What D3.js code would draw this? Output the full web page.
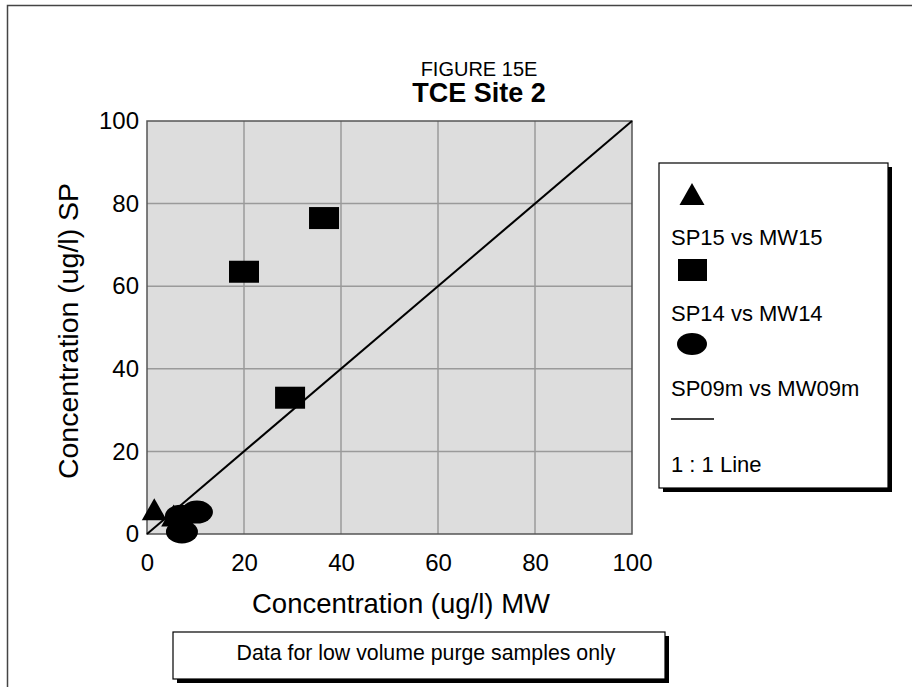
<!DOCTYPE html>
<html>
<head>
<meta charset="utf-8">
<script src="https://cdn.jsdelivr.net/npm/d3@7"></script>
<style>
  body { margin: 0; background: #fff; }
  svg { font-family: "Liberation Sans", Arial, sans-serif; }
</style>
</head>
<body>
<svg id="chart" width="912" height="687"></svg>
<script>
// data
var mwTicks = [0, 20, 40, 60, 80, 100];
var spTicks = [0, 20, 40, 60, 80, 100];

var sp15Mw = [1.5, 5.5];
var sp15Sp = [6, 4.5];
var sp14Mw = [20, 36.5, 29.5];
var sp14Sp = [63.5, 76.5, 33];
var sp09Mw = [10.3, 7.2, 7];
var sp09Sp = [5.3, 0.5, 4.3];
var oneToOne = [0, 100];

var legendNames = ["SP15 vs MW15", "SP14 vs MW14", "SP09m vs MW09m", "1 : 1 Line"];

var margin = {top: 121, left: 147},
    width = 485,
    height = 413;

var svg = d3.select("#chart");

// outer frame (only top and left edges show)
svg.append("path")
    .attr("d", "M7.5,690 V5.5 H915")
    .attr("fill", "none")
    .attr("stroke", "#444")
    .attr("stroke-width", 1.5);

var x = d3.scaleLinear().domain([0, 100]).range([0, width]);
var y = d3.scaleLinear().domain([0, 100]).range([height, 0]);

var chart = svg.append("g")
    .attr("transform", "translate(" + margin.left + "," + margin.top + ")");

chart.append("rect")
    .attr("width", width)
    .attr("height", height)
    .attr("fill", "#dddddd");

// grid
chart.selectAll("line.gx")
    .data(mwTicks.slice(1, -1))
  .enter().append("line")
    .attr("class", "gx")
    .attr("x1", function(d) { return x(d); })
    .attr("x2", function(d) { return x(d); })
    .attr("y1", 0).attr("y2", height)
    .attr("stroke", "#9a9a9a").attr("stroke-width", 1.5);

chart.selectAll("line.gy")
    .data(spTicks.slice(1, -1))
  .enter().append("line")
    .attr("class", "gy")
    .attr("y1", function(d) { return y(d); })
    .attr("y2", function(d) { return y(d); })
    .attr("x1", 0).attr("x2", width)
    .attr("stroke", "#9a9a9a").attr("stroke-width", 1.5);

chart.append("rect")
    .attr("width", width)
    .attr("height", height)
    .attr("fill", "none")
    .attr("stroke", "#555")
    .attr("stroke-width", 1.5);

// axes
var xAxis = d3.axisBottom(x).tickValues(mwTicks).tickSize(0).tickPadding(20);
var yAxis = d3.axisLeft(y).tickValues(spTicks).tickSize(0).tickPadding(8);

chart.append("g")
    .attr("class", "x axis")
    .attr("transform", "translate(0," + height + ")")
    .call(xAxis);

chart.append("g")
    .attr("class", "y axis")
    .call(yAxis);

chart.selectAll(".axis path").remove();
chart.selectAll(".axis text")
    .attr("font-family", "Liberation Sans, Arial, sans-serif")
    .attr("font-size", 24)
    .attr("fill", "#000");

// 1:1 line
chart.append("line")
    .attr("x1", x(oneToOne[0])).attr("y1", y(oneToOne[0]))
    .attr("x2", x(oneToOne[1])).attr("y2", y(oneToOne[1]))
    .attr("stroke", "#000").attr("stroke-width", 2);

function zip(a, b) { return a.map(function(v, i) { return {mw: v, sp: b[i]}; }); }

var triPath = "M0,-11 L12.5,11 L-12.5,11 Z";

chart.selectAll("path.tri")
    .data(zip(sp15Mw, sp15Sp))
  .enter().append("path")
    .attr("class", "tri")
    .attr("d", triPath)
    .attr("transform", function(d) { return "translate(" + x(d.mw) + "," + y(d.sp) + ")"; })
    .attr("fill", "#000");

chart.selectAll("rect.sq")
    .data(zip(sp14Mw, sp14Sp))
  .enter().append("rect")
    .attr("class", "sq")
    .attr("x", function(d) { return x(d.mw) - 15; })
    .attr("y", function(d) { return y(d.sp) - 11; })
    .attr("width", 30).attr("height", 22)
    .attr("fill", "#000");

chart.selectAll("ellipse.ci")
    .data(zip(sp09Mw, sp09Sp))
  .enter().append("ellipse")
    .attr("class", "ci")
    .attr("cx", function(d) { return x(d.mw); })
    .attr("cy", function(d) { return y(d.sp); })
    .attr("rx", 16).attr("ry", 11.5)
    .attr("fill", "#000");

// titles
svg.append("text")
    .attr("x", 479).attr("y", 76)
    .attr("text-anchor", "middle")
    .attr("font-size", 20)
    .text("FIGURE 15E");

svg.append("text")
    .attr("x", 479).attr("y", 102)
    .attr("text-anchor", "middle")
    .attr("font-size", 27)
    .attr("font-weight", "bold")
    .text("TCE Site 2");

svg.append("text")
    .attr("x", 401).attr("y", 613)
    .attr("text-anchor", "middle")
    .attr("font-size", 27.5)
    .text("Concentration (ug/l) MW");

svg.append("text")
    .attr("transform", "translate(78,331) rotate(-90)")
    .attr("text-anchor", "middle")
    .attr("font-size", 28.5)
    .text("Concentration (ug/l) SP");

// legend
var lg = svg.append("g").attr("transform", "translate(659,163)");
lg.append("rect").attr("x", 4).attr("y", 4).attr("width", 229).attr("height", 325).attr("fill", "#000");
lg.append("rect").attr("width", 229).attr("height", 325).attr("fill", "#fff")
    .attr("stroke", "#000").attr("stroke-width", 1.2);

lg.append("path").attr("d", triPath).attr("transform", "translate(33,31)").attr("fill", "#000");
lg.append("rect").attr("x", 19).attr("y", 96).attr("width", 29).attr("height", 22).attr("fill", "#000");
lg.append("ellipse").attr("cx", 33).attr("cy", 181).attr("rx", 15).attr("ry", 11).attr("fill", "#000");
lg.append("line").attr("x1", 12).attr("x2", 55).attr("y1", 256).attr("y2", 256)
    .attr("stroke", "#000").attr("stroke-width", 1.5);

lg.selectAll("text")
    .data(legendNames)
  .enter().append("text")
    .attr("x", 12)
    .attr("y", function(d, i) { return 82 + i * 75.5; })
    .attr("font-size", 22)
    .text(function(d) { return d; });

// note box
var nb = svg.append("g").attr("transform", "translate(173,632)");
nb.append("rect").attr("x", 4).attr("y", 4).attr("width", 492).attr("height", 47).attr("fill", "#000");
nb.append("rect").attr("width", 492).attr("height", 47).attr("fill", "#fff")
    .attr("stroke", "#000").attr("stroke-width", 1.2);
nb.append("text")
    .attr("x", 253).attr("y", 28)
    .attr("text-anchor", "middle")
    .attr("font-size", 21.3)
    .text("Data for low volume purge samples only");
</script>
</body>
</html>
